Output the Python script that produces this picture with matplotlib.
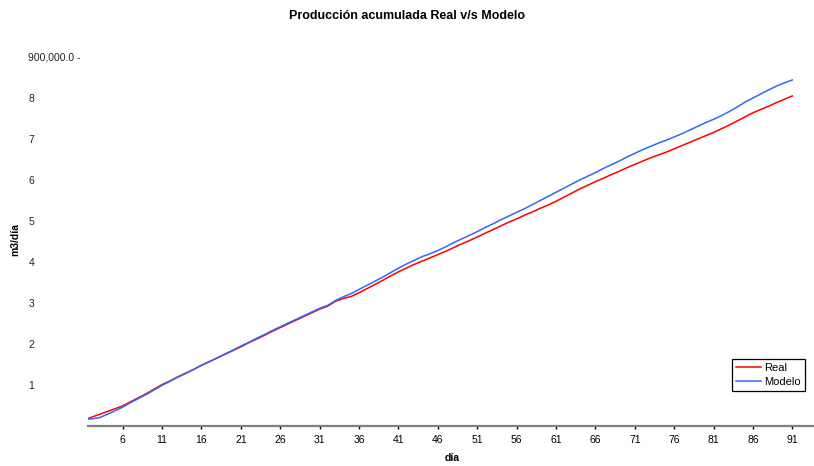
import matplotlib
matplotlib.use('Agg')
import matplotlib.pyplot as plt

plt.rcParams['font.family'] = ['Liberation Sans', 'DejaVu Sans']

# Cumulative production per day (m3)
days = list(range(1, 92))
real = [15, 21, 28, 35, 42, 49,
        59, 69, 79, 90, 101,
        110, 120, 129, 138, 148,
        157, 166, 175, 184, 193,
        203, 212, 221, 231, 240,
        249, 258, 267, 276, 285,
        292, 304, 311, 316, 325,
        335, 345, 355, 366, 376,
        385, 394, 402, 410, 418,
        426, 435, 444, 452, 461,
        470, 479, 488, 497, 505,
        514, 522, 531, 539, 548,
        558, 568, 578, 587, 596,
        604, 613, 621, 630, 638,
        646, 654, 661, 668, 676,
        684, 692, 700, 708, 716,
        725, 734, 744, 754, 764,
        772, 780, 789, 797, 805]
modelo = [17, 17, 20, 28, 37, 46,
          57, 67, 77, 88, 99,
          109, 119, 128, 138, 148,
          157, 166, 176, 185, 195,
          204, 214, 223, 233, 242,
          251, 260, 269, 278, 287,
          294, 306, 315, 323, 333,
          343, 353, 363, 374, 385,
          395, 404, 413, 420, 428,
          437, 447, 456, 465, 474,
          484, 493, 503, 512, 521,
          530, 540, 550, 560, 570,
          580, 590, 600, 609, 618,
          628, 637, 646, 656, 665,
          674, 682, 690, 697, 705,
          713, 722, 731, 740, 748,
          757, 767, 778, 790, 800,
          810, 820, 829, 837, 844]
real = [v * 1000 for v in real]
modelo = [v * 1000 for v in modelo]

x_ticks = list(range(6, 92, 5))
y_ticks = [100000 * i for i in range(1, 10)]
y_labels = ['1', '2', '3', '4', '5', '6', '7', '8', '900,000.0 -']

fig = plt.figure(figsize=(8.14, 4.66), dpi=100)
ax = fig.add_axes([88 / 814, 1 - 426 / 466, 1 - 88 / 814, (426 - 57) / 466])

ax.plot(days, real, color='#ff0000', linewidth=1.1, label='Real')
ax.plot(days, modelo, color='#3366ff', linewidth=1.1, label='Modelo')

ax.set_xlim(1.6, 93.75)
ax.set_ylim(0, 900000)

for side in ['top', 'right', 'left']:
    ax.spines[side].set_visible(False)
ax.spines['bottom'].set_color('#808080')
ax.spines['bottom'].set_linewidth(1.6)

ax.set_xticks(x_ticks)
ax.tick_params(axis='x', direction='out', length=2.5, width=1, pad=4, labelsize=7.5)
ax.set_yticks(y_ticks, y_labels)
ax.tick_params(axis='y', length=0, pad=43, labelsize=7.5, labelcolor='#222222')
for lab in ax.get_yticklabels():
    lab.set_horizontalalignment('left')

leg = ax.legend(loc='lower right', bbox_to_anchor=(805 / 814, 1 - 391 / 466),
                bbox_transform=fig.transFigure, fontsize=8, frameon=True,
                fancybox=False, edgecolor='black', framealpha=1,
                borderpad=0.35, handlelength=2.3, handletextpad=0.3,
                labelspacing=0.35, borderaxespad=0)
leg.get_frame().set_linewidth(0.9)

fig.text(0.5, 1 - 16 / 466, 'Producción acumulada Real v/s Modelo',
         ha='center', va='center', fontsize=9, fontweight='bold')
fig.text(452 / 814, 1 - 458 / 466, 'día', ha='center', va='center',
         fontsize=7.5, fontweight='bold')
fig.text(15 / 814, 1 - 240 / 466, 'm3/día', ha='center', va='center',
         rotation=90, fontsize=7.5, fontweight='bold')

fig.savefig('out.png', dpi=100)
